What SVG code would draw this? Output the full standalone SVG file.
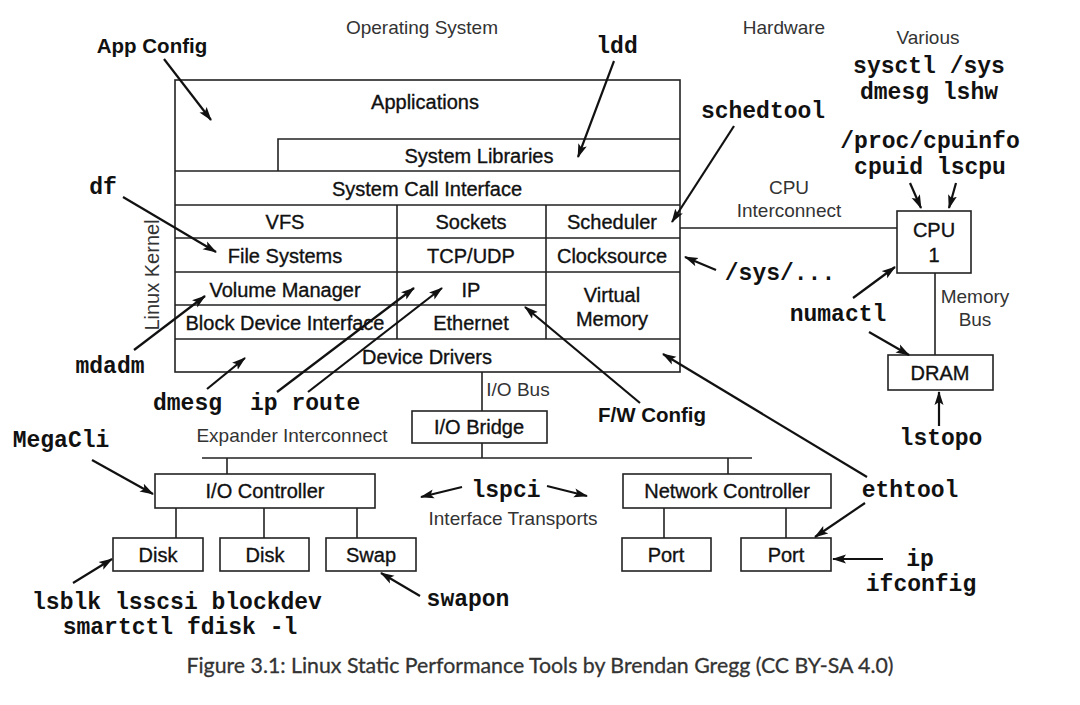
<svg xmlns="http://www.w3.org/2000/svg" width="1080" height="705" viewBox="0 0 1080 705">
<defs>
<style>
.box{fill:#fff;stroke:#222;stroke-width:1.6}
.ln{fill:none;stroke:#222;stroke-width:1.6}
.ar{fill:none;stroke:#111;stroke-width:2.2;marker-end:url(#ah)}
.s{font-family:"Liberation Sans",Arial,sans-serif;font-size:20px;fill:#111;stroke:#111;stroke-width:0.35;text-anchor:middle}
.t{font-family:"Liberation Sans",Arial,sans-serif;font-size:19px;fill:#333;text-anchor:middle}
.b{font-family:"Liberation Sans",Arial,sans-serif;font-size:20.5px;font-weight:bold;fill:#111;text-anchor:middle}
.m{font-family:"Liberation Mono","Courier New",monospace;font-size:23px;font-weight:bold;fill:#111;text-anchor:middle}
.ml{font-family:"Liberation Mono","Courier New",monospace;font-size:23px;font-weight:bold;fill:#111;text-anchor:start}
.cap{font-family:Lato,"Open Sans",sans-serif;font-size:21.3px;fill:#333;stroke:#333;stroke-width:0.3;text-anchor:middle}
</style>
<marker id="ah" viewBox="0 0 14 10" refX="13" refY="5" markerWidth="14" markerHeight="10" markerUnits="userSpaceOnUse" orient="auto">
<path d="M0,0.5 L14,5 L0,9.5 L3,5 z" fill="#111"/>
</marker>
</defs>
<rect width="1080" height="705" fill="#fff"/>

<g id="headers">
<text class="t" x="422" y="34">Operating System</text>
<text class="t" x="784" y="34">Hardware</text>
<text class="t" x="928" y="44">Various</text>
</g>

<g id="kernel-stack">
<rect class="box" x="175" y="80" width="505" height="292"/>
<path class="ln" d="M278,171 V139 H680 M175,171 H680 M175,205 H680 M175,238 H680 M175,272 H680 M175,305 H546 M175,339 H680 M397,205 V339 M546,205 V339"/>
<text class="s" x="425" y="109">Applications</text>
<text class="s" x="479" y="163">System Libraries</text>
<text class="s" x="427" y="196">System Call Interface</text>
<text class="s" x="285" y="229">VFS</text>
<text class="s" x="471" y="229">Sockets</text>
<text class="s" x="612" y="229">Scheduler</text>
<text class="s" x="285" y="263">File Systems</text>
<text class="s" x="471" y="263">TCP/UDP</text>
<text class="s" x="612" y="263">Clocksource</text>
<text class="s" x="285" y="297">Volume Manager</text>
<text class="s" x="471" y="297">IP</text>
<text class="s" x="612" y="302">Virtual</text>
<text class="s" x="612" y="326">Memory</text>
<text class="s" x="285" y="330">Block Device Interface</text>
<text class="s" x="471" y="330">Ethernet</text>
<text class="s" x="427" y="364">Device Drivers</text>
<text class="t" x="0" y="0" transform="translate(159,275) rotate(-90)" style="font-size:20px">Linux Kernel</text>
</g>

<g id="cpu">
<rect class="box" x="897" y="211" width="74" height="62"/>
<text class="s" x="934" y="237">CPU</text>
<text class="s" x="934" y="262">1</text>
</g>
<g id="dram">
<rect class="box" x="888" y="355" width="105" height="35"/>
<text class="s" x="940" y="380">DRAM</text>
</g>
<g id="io-bridge">
<rect class="box" x="412" y="411" width="135" height="32"/>
<text class="s" x="479" y="434">I/O Bridge</text>
</g>
<g id="io-controller">
<rect class="box" x="155" y="474" width="220" height="34"/>
<text class="s" x="265" y="498">I/O Controller</text>
</g>
<g id="network-controller">
<rect class="box" x="623" y="474" width="208" height="34"/>
<text class="s" x="727" y="498">Network Controller</text>
</g>
<g id="disk1">
<rect class="box" x="113" y="538" width="90" height="33"/>
<text class="s" x="158" y="562">Disk</text>
</g>
<g id="disk2">
<rect class="box" x="220" y="538" width="89" height="33"/>
<text class="s" x="265" y="562">Disk</text>
</g>
<g id="swap">
<rect class="box" x="326" y="538" width="90" height="33"/>
<text class="s" x="371" y="562">Swap</text>
</g>
<g id="port1">
<rect class="box" x="622" y="538" width="89" height="33"/>
<text class="s" x="666" y="562">Port</text>
</g>
<g id="port2">
<rect class="box" x="741" y="538" width="90" height="33"/>
<text class="s" x="786" y="562">Port</text>
</g>

<g id="bus-labels">
<text class="t" x="789" y="194">CPU</text>
<text class="t" x="789" y="217">Interconnect</text>
<text class="t" x="975" y="303">Memory</text>
<text class="t" x="975" y="326">Bus</text>
<text class="t" x="518" y="396">I/O Bus</text>
<text class="t" x="292" y="442">Expander Interconnect</text>
<text class="t" x="513" y="525">Interface Transports</text>
</g>

<g id="tool-labels">
<text class="b" x="152" y="53">App Config</text>
<text class="b" x="652" y="422">F/W Config</text>
<text class="m" x="617" y="53">ldd</text>
<text class="m" x="929" y="73">sysctl /sys</text>
<text class="m" x="929" y="99">dmesg lshw</text>
<text class="m" x="763" y="118">schedtool</text>
<text class="m" x="930" y="148">/proc/cpuinfo</text>
<text class="m" x="930" y="174">cpuid lscpu</text>
<text class="m" x="103" y="194">df</text>
<text class="m" x="780" y="280">/sys/...</text>
<text class="m" x="838" y="321">numactl</text>
<text class="m" x="110" y="373">mdadm</text>
<text class="ml" x="153" y="410">dmesg</text>
<text class="ml" x="250" y="410">ip route</text>
<text class="m" x="941" y="445">lstopo</text>
<text class="m" x="61" y="447">MegaCli</text>
<text class="m" x="506" y="497">lspci</text>
<text class="m" x="910" y="497">ethtool</text>
<text class="m" x="920" y="566">ip</text>
<text class="m" x="921" y="591">ifconfig</text>
<text class="m" x="177" y="609">lsblk lsscsi blockdev</text>
<text class="m" x="180" y="634">smartctl fdisk -l</text>
<text class="m" x="468" y="606">swapon</text>
</g>

<g id="connectors">
<path class="ln" d="M680,228 H897 M935,273 V355 M482,372 V411 M482,443 V458 M202,458 H752 M227,458 V474 M728,458 V474 M176,508 V538 M264,508 V538 M357,508 V538 M664,508 V538 M786,508 V538"/>
<line class="ar" x1="164" y1="59" x2="211" y2="120"/>
<line class="ar" x1="614" y1="61" x2="578" y2="157"/>
<line class="ar" x1="734" y1="126" x2="672" y2="222"/>
<line class="ar" x1="123" y1="197" x2="216" y2="252"/>
<line class="ar" x1="716" y1="270" x2="685" y2="257"/>
<line class="ar" x1="910" y1="183" x2="921" y2="208"/>
<line class="ar" x1="956" y1="183" x2="949" y2="208"/>
<line class="ar" x1="853" y1="298" x2="895" y2="267"/>
<line class="ar" x1="869" y1="332" x2="909" y2="355"/>
<line class="ar" x1="939" y1="426" x2="939" y2="392"/>
<line class="ar" x1="867" y1="477" x2="663" y2="354"/>
<line class="ar" x1="640" y1="403" x2="525" y2="307"/>
<line class="ar" x1="134" y1="350" x2="205" y2="296"/>
<line class="ar" x1="207" y1="389" x2="245" y2="358"/>
<line class="ar" x1="277" y1="392" x2="414" y2="288"/>
<line class="ar" x1="308" y1="392" x2="442" y2="288"/>
<line class="ar" x1="92" y1="460" x2="153" y2="494"/>
<line class="ar" x1="462" y1="487" x2="421" y2="497"/>
<line class="ar" x1="547" y1="486" x2="587" y2="496"/>
<line class="ar" x1="73" y1="583" x2="112" y2="559"/>
<line class="ar" x1="420" y1="596" x2="381" y2="573"/>
<line class="ar" x1="865" y1="503" x2="815" y2="537"/>
<line class="ar" x1="883" y1="559" x2="833" y2="559"/>
</g>

<g id="caption">
<text class="cap" x="540" y="673">Figure 3.1: Linux Static Performance Tools by Brendan Gregg (CC BY-SA 4.0)</text>
</g>
</svg>
